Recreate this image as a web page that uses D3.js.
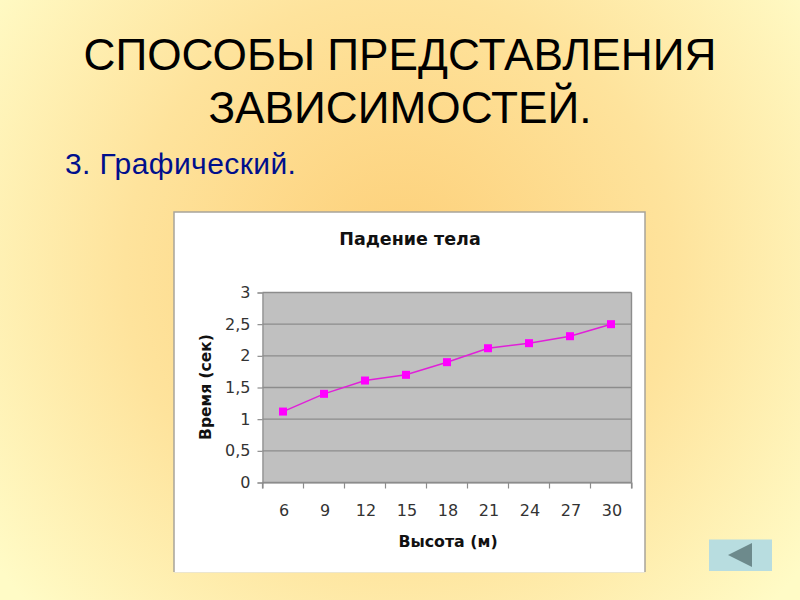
<!DOCTYPE html>
<html>
<head>
<meta charset="utf-8">
<script src="https://cdn.jsdelivr.net/npm/d3@7"></script>
<style>
html, body { margin: 0; padding: 0; background: #fff; }
svg { display: block; }
</style>
</head>
<body>
<svg></svg>
<script>
const heights = ['6', '9', '12', '15', '18', '21', '24', '27', '30'];
const times = [1.12, 1.4, 1.61, 1.7, 1.9, 2.12, 2.2, 2.31, 2.5];
const timeTicks = [0, 0.5, 1, 1.5, 2, 2.5, 3];
const titleLines = ['СПОСОБЫ ПРЕДСТАВЛЕНИЯ', 'ЗАВИСИМОСТЕЙ.'];
const subtitle = '3. Графический.';
const chartTitle = 'Падение тела';
const xTitle = 'Высота (м)';
const yTitle = 'Время (сек)';

const width = 800;
const height = 600;
const chartFont = '"DejaVu Sans", sans-serif';
const slideFont = '"Liberation Sans", Arial, sans-serif';

const svg = d3.select('svg').attr('width', width).attr('height', height);

// slide background
const grad = svg.append('defs').append('radialGradient')
    .attr('id', 'bg')
    .attr('gradientUnits', 'userSpaceOnUse')
    .attr('cx', 400).attr('cy', 270).attr('r', 500);
grad.append('stop').attr('offset', '0').attr('stop-color', '#fdcf78');
grad.append('stop').attr('offset', '0.55').attr('stop-color', '#fee39c');
grad.append('stop').attr('offset', '1').attr('stop-color', '#fffbc6');

svg.append('rect').attr('width', width).attr('height', height).attr('fill', 'url(#bg)');

svg.selectAll('.slide-title')
    .data(titleLines)
    .enter()
    .append('text')
    .attr('class', 'slide-title')
    .attr('x', 400)
    .attr('y', (d, i) => 70 + i * 53)
    .attr('text-anchor', 'middle')
    .attr('font-family', slideFont)
    .attr('font-size', 44.2)
    .attr('fill', '#000')
    .text(d => d);

svg.append('text')
    .attr('x', 65)
    .attr('y', 173.5)
    .attr('font-family', slideFont)
    .attr('font-size', 30)
    .attr('letter-spacing', 0.42)
    .attr('fill', '#000f8c')
    .text(subtitle);

// chart panel
svg.append('rect')
    .attr('x', 174).attr('y', 212)
    .attr('width', 471).attr('height', 360)
    .attr('fill', '#fff');

svg.append('line')
    .attr('x1', 174).attr('x2', 645)
    .attr('y1', 572.5).attr('y2', 572.5)
    .attr('stroke', '#ece6cf');

svg.append('path')
    .attr('d', d3.line()([[174, 572], [174, 212], [645, 212], [645, 572]]))
    .attr('fill', 'none')
    .attr('stroke', '#a8a49a')
    .attr('stroke-width', 1.5);

const plot = { left: 262.5, right: 631.5, top: 292.5, bottom: 482.5 };

const xScale = d3.scaleBand()
    .domain(heights)
    .range([plot.left, plot.right]);

const yScale = d3.scaleLinear()
    .domain([0, 3])
    .range([plot.bottom, plot.top]);

svg.append('rect')
    .attr('x', plot.left).attr('y', plot.top)
    .attr('width', plot.right - plot.left).attr('height', plot.bottom - plot.top)
    .attr('fill', '#c0c0c0');

svg.append('g')
    .selectAll('line')
    .data(timeTicks)
    .enter()
    .append('line')
    .attr('x1', plot.left)
    .attr('x2', plot.right)
    .attr('y1', d => yScale(d))
    .attr('y2', d => yScale(d))
    .attr('stroke', '#8c8c8c')
    .attr('stroke-width', 1.4);

svg.append('line')
    .attr('x1', plot.right).attr('x2', plot.right)
    .attr('y1', plot.top).attr('y2', plot.bottom)
    .attr('stroke', '#8c8c8c')
    .attr('stroke-width', 1.4);

const xAxis = d3.axisBottom(xScale).tickSizeOuter(0).tickSize(6).tickPadding(16);
const yAxis = d3.axisLeft(yScale).tickValues(timeTicks).tickSize(5).tickPadding(7)
    .tickFormat(d => String(d).replace('.', ','));

const xG = svg.append('g')
    .attr('transform', 'translate(0,' + plot.bottom + ')')
    .call(xAxis);

// ticks sit between the categories, as in a spreadsheet chart
xG.selectAll('.tick line')
    .attr('x1', xScale.bandwidth() / 2)
    .attr('x2', xScale.bandwidth() / 2);
xG.selectAll('.tick text').attr('dx', 1);
xG.append('line')
    .attr('x1', plot.left).attr('x2', plot.left)
    .attr('y1', 0).attr('y2', 6);

const yG = svg.append('g')
    .attr('transform', 'translate(' + plot.left + ',0)')
    .call(yAxis);

[xG, yG].forEach(g => {
    g.selectAll('.domain, line').attr('stroke', '#8c8c8c').attr('stroke-width', 1.2);
    g.selectAll('text')
        .attr('font-family', chartFont)
        .attr('font-size', 16)
        .attr('fill', '#333');
});

const px = d => xScale(d) + xScale.bandwidth() / 2;

const line = d3.line()
    .x((d, i) => px(heights[i]))
    .y(d => yScale(d));

svg.append('path')
    .datum(times)
    .attr('d', line)
    .attr('fill', 'none')
    .attr('stroke', '#e020d8')
    .attr('stroke-width', 1.5);

svg.selectAll('.point')
    .data(times)
    .enter()
    .append('rect')
    .attr('class', 'point')
    .attr('x', (d, i) => px(heights[i]) - 4)
    .attr('y', d => yScale(d) - 4)
    .attr('width', 8)
    .attr('height', 8)
    .attr('fill', '#ff00ff');

svg.append('text')
    .attr('x', 410)
    .attr('y', 245)
    .attr('text-anchor', 'middle')
    .attr('font-family', chartFont)
    .attr('font-weight', 'bold')
    .attr('font-size', 17.5)
    .attr('fill', '#111')
    .text(chartTitle);

svg.append('text')
    .attr('x', 448)
    .attr('y', 547)
    .attr('text-anchor', 'middle')
    .attr('font-family', chartFont)
    .attr('font-weight', 'bold')
    .attr('font-size', 15.8)
    .attr('fill', '#111')
    .text(xTitle);

svg.append('text')
    .attr('transform', 'translate(211,387) rotate(-90)')
    .attr('text-anchor', 'middle')
    .attr('font-family', chartFont)
    .attr('font-weight', 'bold')
    .attr('font-size', 15.5)
    .attr('fill', '#111')
    .text(yTitle);

// back button
const back = svg.append('g');
back.append('rect')
    .attr('x', 709).attr('y', 539.5)
    .attr('width', 63).attr('height', 31.5)
    .attr('fill', '#b8dde0');
back.append('path')
    .attr('d', d3.line()([[728, 555], [752, 543], [752, 567]]) + 'Z')
    .attr('fill', '#6d8a8c');
</script>
</body>
</html>
